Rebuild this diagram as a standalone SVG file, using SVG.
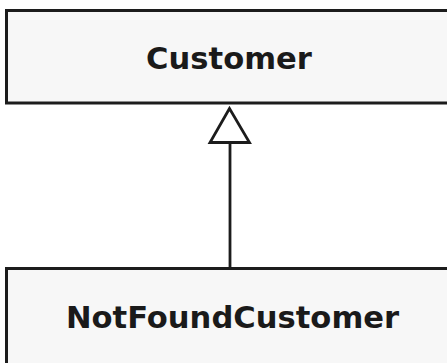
<svg xmlns="http://www.w3.org/2000/svg" width="447" height="363" viewBox="0 0 447 363">
<style>
.box{fill:#f7f7f7;stroke:#1c1c1c;stroke-width:3}
.lbl{font-family:"DejaVu Sans",Verdana,sans-serif;font-weight:bold;font-size:30.6px;fill:#1a1a1a;text-anchor:middle}
.conn{stroke:#1c1c1c;stroke-width:2.8;fill:none}
.head{fill:#ffffff;stroke:#1c1c1c;stroke-width:2.8;stroke-linejoin:miter}
</style>
<rect width="447" height="363" fill="#ffffff"/>
<g id="customer">
<rect class="box" x="6.5" y="10.5" width="460" height="92.5"/>
<text class="lbl" x="229" y="69">Customer</text>
</g>
<g id="notfoundcustomer">
<rect class="box" x="6.5" y="268.5" width="460" height="120"/>
<text class="lbl" x="232.5" y="328">NotFoundCustomer</text>
</g>
<g id="connectors">
<line class="conn" x1="230" y1="142.5" x2="230" y2="268"/>
<polygon class="head" points="229.5,108.5 210,142.5 249.5,142.5"/>
</g>
</svg>
